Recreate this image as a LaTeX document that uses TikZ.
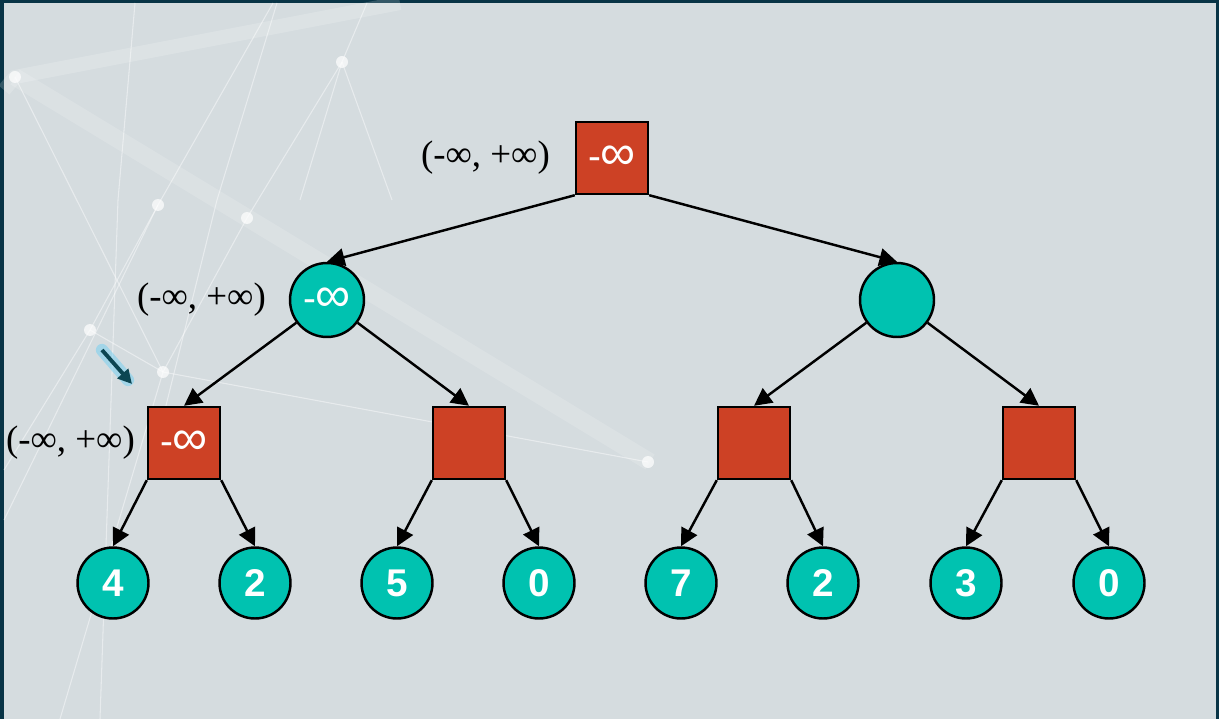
\documentclass[tikz,border=0pt]{standalone}
\usepackage{fontspec}
\setmainfont{Liberation Serif}
\setsansfont{Liberation Sans}
\usetikzlibrary{arrows.meta}

\definecolor{maxred}{RGB}{205,65,37}
\definecolor{minteal}{RGB}{0,194,176}
\definecolor{bggrey}{RGB}{213,220,223}
\definecolor{bgframe}{RGB}{8,52,70}
\definecolor{pointer}{RGB}{12,70,82}

\begin{document}
\begin{tikzpicture}[x=0.02cm, y=-0.02cm,
    maxnode/.style={rectangle, draw=black, line width=1.4pt, fill=maxred, minimum size=1.44cm, inner sep=0pt, text=white, font=\sffamily\fontsize{22}{22}\selectfont},
    minnode/.style={circle, draw=black, line width=1.4pt, fill=minteal, minimum size=1.48cm, inner sep=0pt, text=white, font=\sffamily\fontsize{22}{22}\selectfont},
    leaf/.style={circle, draw=black, line width=1.4pt, fill=minteal, minimum size=1.42cm, inner sep=0pt, text=white, font=\sffamily\bfseries\fontsize{22}{22}\selectfont},
    edge/.style={-{Triangle[length=10pt,width=10pt]}, line width=1.4pt},
    bound/.style={anchor=east, font=\fontsize{21}{21}\selectfont},
    deco/.style={white, opacity=0.45, line width=0.6pt}]

    % background
    \fill[bgframe] (0,0) rectangle (1219,719);
    \fill[bggrey] (4,3) rectangle (1216,719);
    \useasboundingbox (0,0) rectangle (1219,719);

    % network lines in the background
    \draw[white, opacity=0.18, line width=8pt] (4,90) -- (15,77) -- (400,3);
    \draw[white, opacity=0.15, line width=10pt] (15,77) -- (650,462);
    \draw[deco] (15,77) -- (163,372);
    \draw[deco] (135,3) -- (118,200) -- (100,719);
    \draw[deco] (273,3) -- (158,205) -- (4,520);
    \draw[deco] (277,3) -- (217,200) -- (150,470);
    \draw[deco] (367,3) -- (342,62) -- (247,218) -- (163,372);
    \draw[deco] (342,62) -- (300,200);
    \draw[deco] (342,62) -- (392,200);
    \draw[deco] (90,330) -- (163,372) -- (648,462);
    \draw[deco] (4,470) -- (90,330) -- (158,205);
    \draw[deco] (163,372) -- (60,719);
    \foreach \dx/\dy in {15/77, 342/62, 158/205, 247/218, 90/330, 163/372, 648/462}
        \fill[white, opacity=0.7] (\dx,\dy) circle (6);

    % pointer
    \draw[cyan!60, opacity=0.45, line width=7pt, line cap=round] (102,350) -- (128,380);
    \draw[-{Triangle[length=8pt,width=8pt]}, pointer, line width=2.2pt] (102,350) -- (132,384);

    % root (max)
    \node[maxnode] (root) at (612,158) {-{\fontsize{28}{28}\selectfont ∞}};
    \node[bound] (broot) at (556,158) {(-∞, +∞)};

    % level 2 (min)
    \node[minnode] (ma) at (327,300) {-{\fontsize{28}{28}\selectfont ∞}};
    \node[bound] (bma) at (272,300) {(-∞, +∞)};
    \node[minnode] (mb) at (897,300) {};

    % level 3 (max)
    \node[maxnode] (xa) at (184,443) {-{\fontsize{28}{28}\selectfont ∞}};
    \node[bound] (bxa) at (141,443) {(-∞, +∞)};
    \node[maxnode] (xb) at (469,443) {};
    \node[maxnode] (xc) at (754,443) {};
    \node[maxnode] (xd) at (1039,443) {};

    % leaves
    \node[leaf] (l1) at (113,583) {4};
    \node[leaf] (l2) at (255,583) {2};
    \node[leaf] (l3) at (397,583) {5};
    \node[leaf] (l4) at (539,583) {0};
    \node[leaf] (l5) at (681,583) {7};
    \node[leaf] (l6) at (823,583) {2};
    \node[leaf] (l7) at (966,583) {3};
    \node[leaf] (l8) at (1109,583) {0};

    % edges
    \draw[edge] (root.south west) -- (ma.north);
    \draw[edge] (root.south east) -- (mb.north);
    \draw[edge] (ma) -- (xa.north);
    \draw[edge] (ma) -- (xb.north);
    \draw[edge] (mb) -- (xc.north);
    \draw[edge] (mb) -- (xd.north);
    \draw[edge] (xa.south west) -- (l1.north);
    \draw[edge] (xa.south east) -- (l2.north);
    \draw[edge] (xb.south west) -- (l3.north);
    \draw[edge] (xb.south east) -- (l4.north);
    \draw[edge] (xc.south west) -- (l5.north);
    \draw[edge] (xc.south east) -- (l6.north);
    \draw[edge] (xd.south west) -- (l7.north);
    \draw[edge] (xd.south east) -- (l8.north);

\end{tikzpicture}
\end{document}
